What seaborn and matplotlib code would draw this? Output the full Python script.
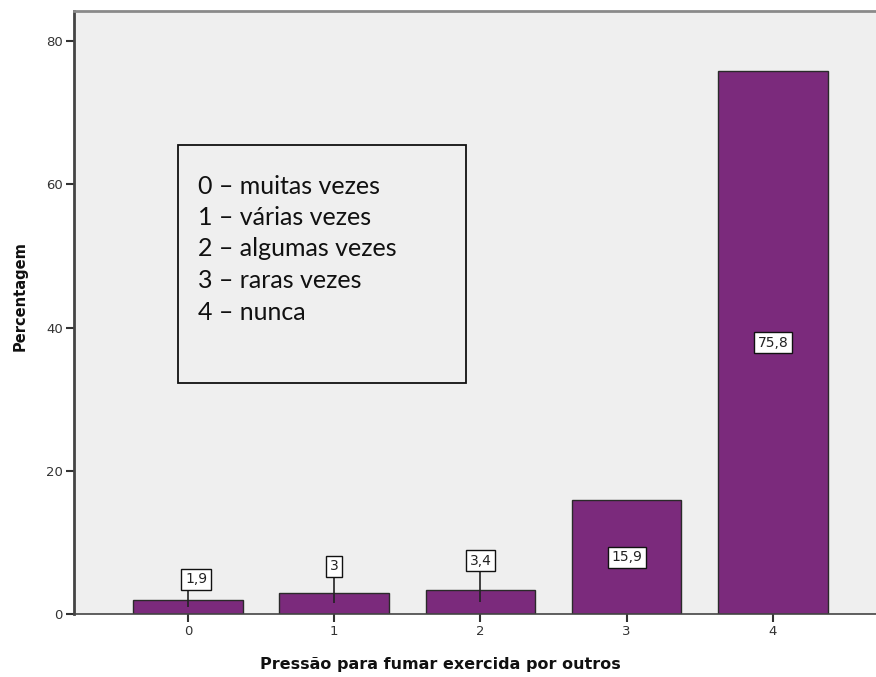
import matplotlib
matplotlib.use("Agg")
import matplotlib.pyplot as plt
import seaborn as sns
import pandas as pd

categories = ["0", "1", "2", "3", "4"]
percentages = [1.9, 3.0, 3.4, 15.9, 75.8]
yticks = [0, 20, 40, 60, 80]
legend_lines = ["0 – muitas vezes", "1 – várias vezes", "2 – algumas vezes",
                "3 – raras vezes", "4 – nunca"]
xlabel = "Pressão para fumar exercida por outros"
ylabel = "Percentagem"

# style: offsets (pixels) of labels moved out of short bars
label_offsets_px = [28, 37, 41, 0, 0]
label_dx_px = [8, 0, 0, 0, 0]

sns.set_theme(style="white")
plt.rcParams["font.family"] = ["DejaVu Sans"]

df = pd.DataFrame({"cat": categories, "pct": percentages})

W, H = 876, 677
fig = plt.figure(figsize=(W/100, H/100), dpi=100)
ax = fig.add_axes([74/W, 63/H, 1 - 74/W, (614-11)/H])
ax.set_facecolor("#EFEFEF")

sns.barplot(data=df, x="cat", y="pct", color="#7B2A7C", saturation=1,
            width=0.75, edgecolor="#2a2a2a", linewidth=1.0, ax=ax)

ymax = 84.2
ax.set_xlim(-0.78, 4.706)
ax.set_ylim(0, ymax)
ax.set_yticks(yticks)
ax.set_yticklabels([str(t) for t in yticks])

ax.spines["right"].set_visible(False)
ax.spines["left"].set_color("#444444")
ax.spines["left"].set_linewidth(2)
ax.spines["bottom"].set_color("#444444")
ax.spines["bottom"].set_linewidth(1.2)
ax.spines["top"].set_color("#8a8a8a")
ax.spines["top"].set_linewidth(2)

ax.tick_params(axis="both", which="both", length=6, width=1.5, color="#333333",
               labelsize=9.5, labelcolor="#333333", pad=2, direction="out",
               left=True, bottom=True)

ax.set_xlabel("")
ax.set_ylabel("")
fig.text(440/W, 1 - 664/H, xlabel, fontsize=11.5, fontweight="bold",
         color="#111111", ha="center", va="center")
fig.text(20/W, 1 - 296/H, ylabel, fontsize=10.5, fontweight="bold",
         color="#111111", ha="center", va="center", rotation=90)

def fmt(v):
    s = f"{v:g}"
    return s.replace(".", ",")

px_per_unit = (614 - 11) / ymax
px_per_xunit = (876 - 74) / (4.706 + 0.78)
box = dict(boxstyle="square,pad=0.25", fc="white", ec="#111111", lw=1)
for i, v in enumerate(percentages):
    off = label_offsets_px[i]
    if off > 0:
        yc = v / 2 + off / px_per_unit
        ax.vlines(i, v / 2, yc - 11 / px_per_unit, color="#222222", lw=1.2, zorder=4)
        ax.text(i + label_dx_px[i] / px_per_xunit, yc, fmt(v), ha="center", va="center",
                fontsize=10, color="#222222", bbox=box, zorder=5)
    else:
        ax.text(i, v / 2, fmt(v), ha="center", va="center", fontsize=10,
                color="#222222", bbox=box, zorder=5)

# legend-like text box
fig.patches.append(plt.Rectangle((178/W, 1 - 383/H), (466-178)/W, (383-145)/H,
                                 transform=fig.transFigure, fill=False,
                                 ec="#111111", lw=1.3))
for k, line in enumerate(legend_lines):
    fig.text(198/W, 1 - (186 + 31.5 * k)/H, line, fontsize=18,
             family="Lato", color="#111111", ha="left", va="center")

fig.savefig("out.png", dpi=100)
